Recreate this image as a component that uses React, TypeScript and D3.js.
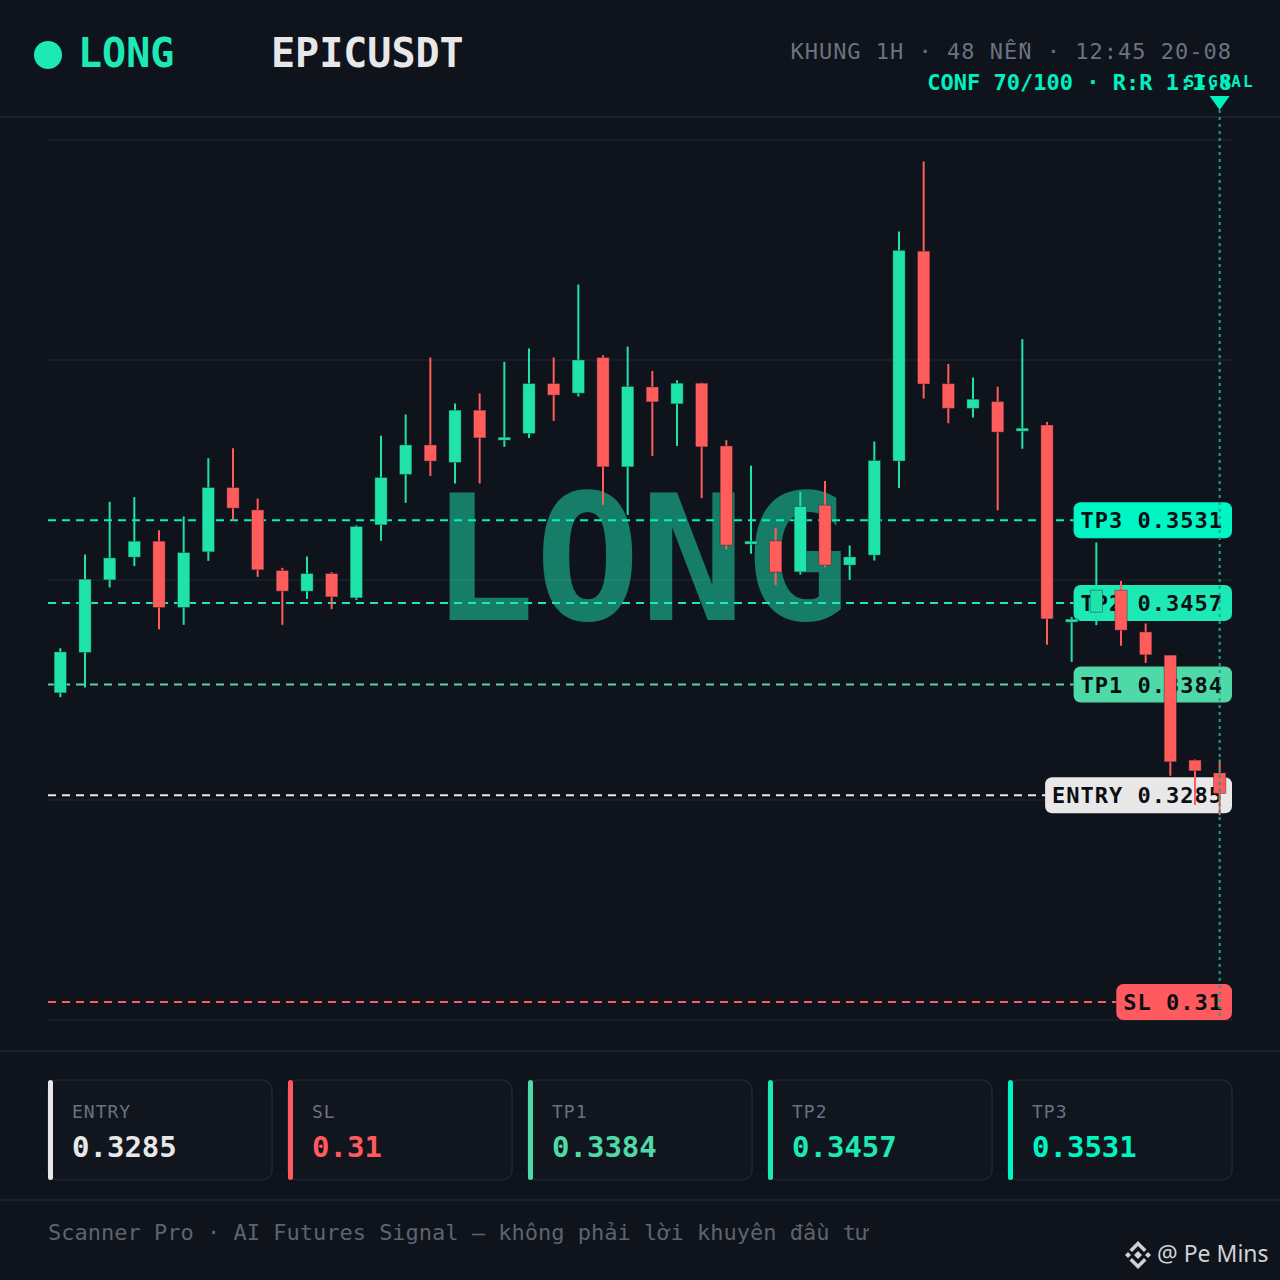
import * as d3 from 'd3'
import React, { useEffect } from 'react'

// OHLC, 48 one-hour candles
const opens = [
  0.33766, 0.34127, 0.34776, 0.34979, 0.35122, 0.34529, 0.35027, 0.35602, 0.35402, 0.3486,
  0.34675, 0.34833, 0.34615, 0.35268, 0.35719, 0.35983, 0.35826, 0.36294, 0.36042, 0.36085,
  0.36532, 0.36446, 0.36765, 0.35787, 0.36502, 0.3635, 0.36535, 0.35974, 0.35104, 0.35125,
  0.34848, 0.35444, 0.34908, 0.34997, 0.35839, 0.37716, 0.36531, 0.3631, 0.36371, 0.36106,
  0.36161, 0.34402, 0.34487, 0.34684, 0.34311, 0.34103, 0.33164, 0.3305,
]
const highs = [
  0.34165, 0.35003, 0.35474, 0.35516, 0.35221, 0.35343, 0.35864, 0.35954, 0.35504, 0.34884,
  0.34985, 0.34845, 0.35263, 0.36064, 0.36255, 0.36765, 0.36354, 0.36443, 0.36726, 0.36845,
  0.36765, 0.37418, 0.36785, 0.36863, 0.36645, 0.36562, 0.3654, 0.36025, 0.35796, 0.35241,
  0.35563, 0.35661, 0.35084, 0.36014, 0.37892, 0.38518, 0.36707, 0.36586, 0.36503, 0.36929,
  0.36189, 0.34445, 0.35111, 0.34765, 0.34386, 0.34105, 0.3317, 0.3317,
]
const lows = [
  0.33727, 0.33814, 0.34708, 0.34899, 0.34335, 0.34374, 0.34946, 0.35307, 0.34803, 0.34374,
  0.34606, 0.34514, 0.34597, 0.35125, 0.35465, 0.35706, 0.35638, 0.35638, 0.35966, 0.36046,
  0.36198, 0.36416, 0.35447, 0.35357, 0.35885, 0.35974, 0.35507, 0.35048, 0.35009, 0.34729,
  0.34824, 0.3489, 0.34776, 0.34949, 0.35598, 0.36398, 0.36177, 0.36229, 0.35398, 0.35949,
  0.34197, 0.34043, 0.34371, 0.34186, 0.34034, 0.33024, 0.32762, 0.32672,
]
const closes = [
  0.34132, 0.34782, 0.34973, 0.35122, 0.34529, 0.35021, 0.35602, 0.35417, 0.34866, 0.34675,
  0.34833, 0.34624, 0.35254, 0.35692, 0.35983, 0.35838, 0.36294, 0.36046, 0.36052, 0.36532,
  0.36428, 0.36743, 0.35787, 0.36506, 0.36368, 0.36535, 0.35966, 0.35086, 0.35122, 0.34845,
  0.35433, 0.34908, 0.34982, 0.35844, 0.37723, 0.36528, 0.3631, 0.36392, 0.36097, 0.36133,
  0.34427, 0.34425, 0.34684, 0.34326, 0.34106, 0.33149, 0.33068, 0.32866,
]

const levelKeys = ['TP3', 'TP2', 'TP1', 'ENTRY', 'SL']
const levelValues = ['0.3531', '0.3457', '0.3384', '0.3285', '0.31']
const levelColors = ['#00f5c4', '#1de9b6', '#4fd9a7', '#e8e8e8', '#ff5a5f']

const cardKeys = ['ENTRY', 'SL', 'TP1', 'TP2', 'TP3']

const W = 1280
const H = 1280
const plot = { left: 48, right: 1232, top: 140, bottom: 1020 }
const bg = '#0f131b'
const up = '#20e3aa'
const down = '#ff5c5c'
const mono = '"DejaVu Sans Mono", "Liberation Mono", monospace'

const App = () => {
  useEffect(() => {
    document.body.style.margin = '0'
    document.body.style.background = bg
  }, [])

  const idx = d3.range(opens.length)
  const x = d3
    .scaleBand<number>()
    .domain(idx)
    .range([plot.left, plot.right])
    .paddingInner(0.5)
    .paddingOuter(0.25)
  const y = d3.scaleLinear().domain([0.3084, 0.3871]).range([plot.bottom, plot.top])
  const grid = d3.range(5).map((i) => plot.top + ((plot.bottom - plot.top) * i) / 4)

  const charW = 14.24
  const levels = levelKeys.map((k, i) => {
    const text = `${k} ${levelValues[i]}`
    const w = text.length * charW + 16
    return { k, text, w, color: levelColors[i], yv: y(+levelValues[i]) }
  })

  const bw = x.bandwidth()
  const lastX = (x(idx.length - 1) as number) + bw / 2

  return (
    <div style={{ position: 'fixed', left: 0, top: 0 }}>
      <svg width={W} height={H} style={{ display: 'block', background: bg }}>
        <rect width={W} height={H} fill={bg} />

        {/* header */}
        <circle cx={48} cy={55} r={14} fill="#1de9b6" />
        <text x={78} y={67} fontFamily={mono} fontWeight="bold" fontSize={40} fill="#1de9b6">
          LONG
        </text>
        <text x={271} y={67} fontFamily={mono} fontWeight="bold" fontSize={40} fill="#e8e8e8">
          EPICUSDT
        </text>
        <text x={1232} y={59} textAnchor="end" fontFamily={mono} fontSize={22} letterSpacing={1} fill="#6b7280">
          KHUNG 1H · 48 NẾN · 12:45 20-08
        </text>
        <text x={1232} y={90} textAnchor="end" fontFamily={mono} fontWeight="bold" fontSize={22} fill="#00f0c0">
          CONF 70/100 · R:R 1:1.8
        </text>
        <line x1={0} x2={W} y1={117} y2={117} stroke="#1c222c" strokeWidth={2} />

        {/* grid */}
        {grid.map((g) => (
          <line key={g} x1={plot.left} x2={plot.right} y1={g} y2={g} stroke="#1c222d" strokeWidth={1.5} />
        ))}

        {/* watermark */}
        <text
          x={640}
          y={620}
          textAnchor="middle"
          fontFamily={mono}
          fontWeight="bold"
          fontSize={174}
          fill="#1de9b6"
          fillOpacity={0.5}
        >
          LONG
        </text>

        {/* level lines and tags */}
        {levels.map((l) => (
          <g key={l.k}>
            <line
              x1={plot.left}
              x2={plot.right - l.w}
              y1={l.yv}
              y2={l.yv}
              stroke={l.color}
              strokeWidth={2}
              strokeDasharray="8 6"
            />
            <rect x={plot.right - l.w} y={l.yv - 18} width={l.w} height={36} rx={7} fill={l.color} />
            <text
              x={plot.right - l.w + 7}
              y={l.yv + 8}
              fontFamily={mono}
              fontWeight="bold"
              fontSize={22}
              letterSpacing={1}
              fill="#0b0f14"
            >
              {l.text}
            </text>
          </g>
        ))}

        {/* candles */}
        {idx.map((i) => {
          const o = opens[i]
          const c = closes[i]
          const col = c >= o ? up : down
          const cx = (x(i) as number) + bw / 2
          const top = y(Math.max(o, c))
          const h = Math.max(3, y(Math.min(o, c)) - top)
          return (
            <g key={i}>
              <line x1={cx} x2={cx} y1={y(highs[i])} y2={y(lows[i])} stroke={col} strokeWidth={2} />
              <rect
                x={x(i)}
                y={top}
                width={bw}
                height={h}
                fill={col}
                stroke="#0f131b"
                strokeOpacity={0.35}
                strokeWidth={1}
              />
            </g>
          )
        })}

        {/* signal marker */}
        <line
          x1={lastX}
          x2={lastX}
          y1={110}
          y2={plot.bottom}
          stroke="#17a589"
          strokeWidth={2}
          strokeDasharray="3 4"
        />
        <path d={`M${lastX - 10},96 L${lastX + 10},96 L${lastX},110 Z`} fill="#00f0c0" />
        <text
          x={lastX}
          y={87}
          textAnchor="middle"
          fontFamily={mono}
          fontWeight="bold"
          fontSize={16}
          letterSpacing={2}
          fill="#00f0c0"
        >
          SIGNAL
        </text>

        {/* cards */}
        <line x1={0} x2={W} y1={1051} y2={1051} stroke="#1c222c" strokeWidth={2} />
        {cardKeys.map((k, i) => {
          const li = levelKeys.indexOf(k)
          const cx0 = plot.left + i * 240
          return (
            <g key={k}>
              <rect x={cx0} y={1080} width={224} height={100} rx={10} fill="#10151e" stroke="#1f2631" strokeWidth={1.5} />
              <rect x={cx0} y={1080} width={5} height={100} rx={2.5} fill={levelColors[li]} />
              <text x={cx0 + 24} y={1118} fontFamily={mono} fontSize={18} letterSpacing={1} fill="#6b7280">
                {k}
              </text>
              <text x={cx0 + 24} y={1157} fontFamily={mono} fontWeight="bold" fontSize={29} fill={levelColors[li]}>
                {levelValues[li]}
              </text>
            </g>
          )
        })}
        <line x1={0} x2={W} y1={1200} y2={1200} stroke="#1c222c" strokeWidth={2} />

        {/* footer */}
        <text x={48} y={1240} fontFamily={mono} fontSize={22} fill="#5d6470">
          Scanner Pro · AI Futures Signal — không phải lời khuyên đầu tư
        </text>
        <g transform="translate(1138,1255)" fill="#cfd2d6">
          <path d="M0,-4 L4,0 L0,4 L-4,0 Z" />
          <path d="M-10,-3 L-7,0 L-10,3 L-13,0 Z" />
          <path d="M10,-3 L13,0 L10,3 L7,0 Z" />
          <path d="M-8.5,-5.5 L0,-14 L8.5,-5.5 L6,-3 L0,-9 L-6,-3 Z" />
          <path d="M-8.5,5.5 L0,14 L8.5,5.5 L6,3 L0,9 L-6,3 Z" />
        </g>
        <text x={1157} y={1262} fontFamily='"Noto Sans", sans-serif' fontSize={23} fill="#cfd2d6">
          @ Pe Mins
        </text>
      </svg>
    </div>
  )
}

export default App
